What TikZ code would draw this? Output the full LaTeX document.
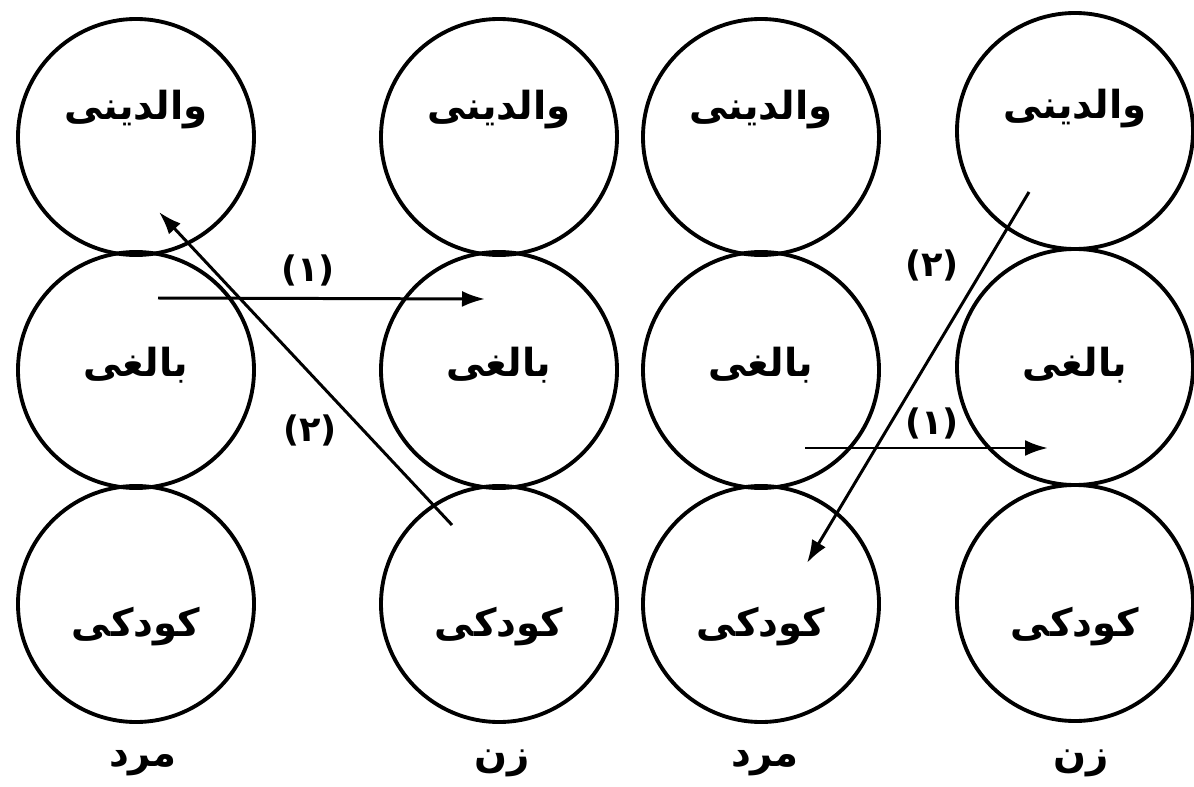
\documentclass[tikz,border=0pt]{standalone}
\usepackage{fontspec}
\newfontfamily\arabicfont[Script=Arabic]{DejaVu Sans}
\TeXXeTstate=1
\newcommand{\fa}[1]{{\arabicfont\bfseries\beginR #1\endR}}
\usetikzlibrary{
    arrows.meta,
    positioning,
    calc
}

\begin{document}
\begin{tikzpicture}[
        stage/.style={circle, draw, line width=2.2pt, minimum size=4.72cm, inner sep=0pt},
        word/.style={font=\fontsize{22}{26}\selectfont, inner sep=1pt},
        sex/.style={font=\fontsize{22}{26}\selectfont, inner sep=1pt},
        num/.style={font=\arabicfont\bfseries\fontsize{20}{24}\selectfont, inner sep=1pt},
        flow/.style={line width=1.7pt, -{Latex[length=4.6mm, width=3.2mm]}}
    ]
    \useasboundingbox (0,0) rectangle (23.88,15.72);

    % first column (man)
    \node[stage] (p1) at (2.72,12.98) {};
    \node[stage] (a1) at (2.72,8.32) {};
    \node[stage] (c1) at (2.72,3.64) {};
    % second column (woman)
    \node[stage] (p2) at (9.98,12.98) {};
    \node[stage] (a2) at (9.98,8.32) {};
    \node[stage] (c2) at (9.98,3.64) {};
    % third column (man)
    \node[stage] (p3) at (15.22,12.98) {};
    \node[stage] (a3) at (15.22,8.32) {};
    \node[stage] (c3) at (15.22,3.64) {};
    % fourth column (woman)
    \node[stage] (p4) at (21.50,13.10) {};
    \node[stage] (a4) at (21.50,8.38) {};
    \node[stage] (c4) at (21.50,3.66) {};

    % ego states
    \node[word] (tp1) at ([yshift=5.4mm]p1.center) {\fa{والدینی}};
    \node[word] (ta1) at ([yshift=1mm]a1.center) {\fa{بالغی}};
    \node[word] (tc1) at ([yshift=-4.6mm]c1.center) {\fa{کودکی}};
    \node[word] (tp2) at ([yshift=5.4mm]p2.center) {\fa{والدینی}};
    \node[word] (ta2) at ([yshift=1mm]a2.center) {\fa{بالغی}};
    \node[word] (tc2) at ([yshift=-4.6mm]c2.center) {\fa{کودکی}};
    \node[word] (tp3) at ([yshift=5.4mm]p3.center) {\fa{والدینی}};
    \node[word] (ta3) at ([yshift=1mm]a3.center) {\fa{بالغی}};
    \node[word] (tc3) at ([yshift=-4.6mm]c3.center) {\fa{کودکی}};
    \node[word] (tp4) at ([yshift=4.4mm]p4.center) {\fa{والدینی}};
    \node[word] (ta4) at ([yshift=0.4mm]a4.center) {\fa{بالغی}};
    \node[word] (tc4) at ([yshift=-4.8mm]c4.center) {\fa{کودکی}};

    % man / woman
    \node[sex] (g1) at (2.86,0.46) {\fa{مرد}};
    \node[sex] (g2) at (10.04,0.46) {\fa{زن}};
    \node[sex] (g3) at (15.30,0.46) {\fa{مرد}};
    \node[sex] (g4) at (21.62,0.46) {\fa{زن}};

    % transaction ends
    \coordinate (s1) at (3.16,9.76);
    \coordinate (e1) at (9.70,9.74);
    \coordinate (s2) at (9.04,5.22);
    \coordinate (e2) at (3.18,11.48);
    \coordinate (s3) at (20.58,11.88);
    \coordinate (e3) at (16.14,4.46);
    \coordinate (s4) at (16.10,6.76);
    \coordinate (e4) at (20.96,6.76);

    % crossed transactions
    \draw[flow] (s1) -- (e1);
    \draw[flow] (s2) -- (e2);
    \draw[flow] (s3) -- (e3);
    \draw[flow] (s4) -- (e4);

    \node[num] (n1) at (6.16,10.32) {(۱)};
    \node[num] (n2) at (6.20,7.12) {(۲)};
    \node[num] (n3) at (18.64,10.42) {(۲)};
    \node[num] (n4) at (18.64,7.26) {(۱)};
\end{tikzpicture}
\end{document}
